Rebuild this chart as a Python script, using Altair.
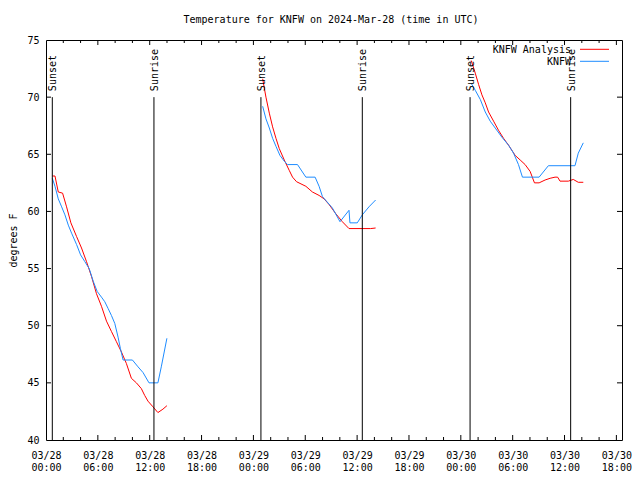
import json
import altair as alt
import pandas as pd

# ---- data (hours since 2024-03-28 00:00 UTC, temperature in F) ----
ana_h_1 = [0.73, 1.04, 1.42, 1.92, 2.38, 2.88, 3.54, 4.11, 4.69, 5.27, 5.84, 6.42, 7.0, 7.57,
           8.15, 8.73, 9.30, 9.88, 10.46, 11.03, 11.42, 11.80, 12.38, 12.95, 13.53, 13.99]
ana_t_1 = [63.1, 63.1, 61.7, 61.6, 60.4, 59.0, 57.8, 56.8, 55.6, 54.3, 52.8, 51.7, 50.4, 49.5,
           48.6, 47.7, 46.7, 45.4, 45.0, 44.5, 43.9, 43.4, 42.9, 42.4, 42.7, 43.0]
ana_h_2 = [25.07, 25.45, 25.84, 26.22, 26.61, 26.99, 27.57, 28.14, 28.53, 28.99, 30.07, 30.83,
           31.6, 32.18, 32.76, 33.53, 34.29, 35.06, 37.56, 38.14]
ana_t_2 = [71.6, 70.0, 68.6, 67.4, 66.4, 65.5, 64.5, 63.6, 63.0, 62.6, 62.2, 61.7,
           61.4, 61.1, 60.6, 59.8, 59.1, 58.5, 58.5, 58.55]
ana_h_3 = [49.21, 49.67, 50.06, 50.44, 50.83, 51.21, 51.79, 52.36, 52.94, 53.52, 54.29, 54.87,
           55.44, 56.02, 56.52, 57.06, 57.75, 58.33, 58.9, 59.2, 59.48, 60.44, 61.01, 61.59, 62.17]
ana_t_3 = [73.2, 72.1, 71.1, 70.2, 69.5, 68.7, 67.9, 67.1, 66.4, 65.8, 64.9, 64.5,
           64.1, 63.5, 62.5, 62.5, 62.75, 62.9, 63.0, 63.0, 62.65, 62.65, 62.8, 62.55, 62.55]

obs_h_1 = [0.73, 1.04, 1.42, 1.81, 2.19, 2.58, 2.96, 3.54, 4.0, 4.5, 5.0, 5.46, 5.92, 6.42,
           6.8, 7.19, 7.57, 7.96, 8.34, 8.61, 8.92, 10.0, 10.65, 11.23, 11.92, 12.95, 13.34, 13.99]
obs_t_1 = [62.9, 62.2, 61.1, 60.4, 59.7, 58.8, 58.1, 57.1, 56.2, 55.6, 55.0, 53.9, 53.0, 52.5,
           52.1, 51.5, 50.9, 50.2, 49.0, 48.0, 47.0, 47.0, 46.4, 45.9, 45.0, 45.0, 46.4, 48.9]
obs_h_2 = [25.07, 25.45, 25.84, 26.22, 26.61, 27.07, 27.57, 27.95, 29.1, 30.07, 31.14, 31.6,
           31.99, 32.45, 33.14, 34.02, 35.06, 35.17, 36.02, 36.6, 37.37, 38.14]
obs_t_2 = [69.2, 68.1, 67.3, 66.4, 65.7, 64.9, 64.4, 64.1, 64.1, 63.0, 63.0, 62.2,
           61.3, 60.9, 60.3, 59.1, 60.1, 59.0, 59.0, 59.7, 60.4, 61.0]
obs_h_3 = [49.21, 49.67, 50.25, 50.83, 51.4, 51.98, 52.75, 53.52, 54.1, 54.67, 55.13, 57.06,
           58.13, 61.21, 61.59, 62.17]
obs_t_3 = [71.2, 70.6, 69.8, 68.7, 67.9, 67.3, 66.5, 65.8, 65.1, 64.1, 63.0, 63.0,
           64.0, 64.0, 65.1, 66.0]

series_names = ["KNFW Analysis", "KNFW"]
series_colors = ["#ff0000", "#1e8cff"]

event_h = [0.73, 12.49, 24.87, 36.6, 49.07, 60.71]
event_labels = ["Sunset", "Sunrise", "Sunset", "Sunrise", "Sunset", "Sunrise"]

x_major = [0, 6, 12, 18, 24, 30, 36, 42, 48, 54, 60, 66]
x_minor = [h for h in range(0, 67, 2) if h % 6 != 0]
x_dates = ["03/28", "03/28", "03/28", "03/28", "03/29", "03/29", "03/29", "03/29",
           "03/30", "03/30", "03/30", "03/30"]
x_times = ["00:00", "06:00", "12:00", "18:00"] * 3
y_ticks = [40, 45, 50, 55, 60, 65, 70, 75]

TITLE = "Temperature for KNFW on 2024-Mar-28 (time in UTC)"
FONT = "DejaVu Sans Mono"
W, H = 576, 400

rows = []
for name, segs in [(series_names[0], [(ana_h_1, ana_t_1), (ana_h_2, ana_t_2), (ana_h_3, ana_t_3)]),
                   (series_names[1], [(obs_h_1, obs_t_1), (obs_h_2, obs_t_2), (obs_h_3, obs_t_3)])]:
    for si, (hs, ts) in enumerate(segs):
        for h, t in zip(hs, ts):
            rows.append({"h": h, "temp": t, "series": name, "seg": f"{name}-{si}"})
df = pd.DataFrame(rows)
events = pd.DataFrame({"h": event_h, "label": event_labels})
xmaj = pd.DataFrame({"h": x_major[1:]})
xmin = pd.DataFrame({"h": x_minor})
yt = pd.DataFrame({"v": y_ticks[1:-1]})

x_scale = alt.Scale(domain=[0, 66.65], nice=False, zero=False)
y_scale = alt.Scale(domain=[40, 75], nice=False, zero=False)

label_expr = (f"[{json.dumps(x_dates)}[round(datum.value / 6)], "
              f"{json.dumps(x_times)}[round(datum.value / 6)]]")

x_axis = alt.Axis(values=x_major, labelExpr=label_expr, tickSize=0, domain=False, grid=False,
                  title=None, labelFont=FONT, labelFontSize=10, labelColor="black",
                  labelPadding=10, labelLineHeight=12.5, labelBaseline="top",
                  labelOverlap=False, labelBound=False, labelFlush=False, labelAlign="center")
y_axis = alt.Axis(values=y_ticks, tickSize=0, domain=False, grid=False, title="degrees F",
                  labelFont=FONT, labelFontSize=10, labelColor="black", labelPadding=7,
                  titleFont=FONT, titleFontSize=10, titleFontWeight="normal", titleColor="black",
                  titleAngle=270, titleX=-33, titleY=200, titleAlign="center",
                  titleBaseline="middle", labelOverlap=False, labelBound=False, labelFlush=False)

lines = alt.Chart(df).mark_line(strokeWidth=1).encode(
    x=alt.X("h:Q", scale=x_scale, axis=x_axis),
    y=alt.Y("temp:Q", scale=y_scale, axis=y_axis),
    color=alt.Color("series:N", scale=alt.Scale(domain=series_names, range=series_colors), legend=None),
    detail="seg:N",
)

ev_rules = alt.Chart(events).mark_rule(color="black", strokeWidth=1).encode(
    x=alt.X("h:Q", scale=x_scale), y=alt.datum(40), y2=alt.datum(70))
ev_text = alt.Chart(events).mark_text(angle=270, align="left", baseline="middle", dx=6, dy=1,
                                      font=FONT, fontSize=10, color="black").encode(
    x=alt.X("h:Q", scale=x_scale), y=alt.datum(70), text="label:N")

tick_layers = []
for d, ln in [(xmaj, 5), (xmin, 3)]:
    tick_layers.append(alt.Chart(d).mark_rule(color="black", strokeWidth=1).encode(
        x=alt.X("h:Q", scale=x_scale), y=alt.value(H), y2=alt.value(H - ln)))
    tick_layers.append(alt.Chart(d).mark_rule(color="black", strokeWidth=1).encode(
        x=alt.X("h:Q", scale=x_scale), y=alt.value(0), y2=alt.value(ln)))
tick_layers.append(alt.Chart(yt).mark_rule(color="black", strokeWidth=1).encode(
    y=alt.Y("v:Q", scale=y_scale), x=alt.value(0), x2=alt.value(5)))
tick_layers.append(alt.Chart(yt).mark_rule(color="black", strokeWidth=1).encode(
    y=alt.Y("v:Q", scale=y_scale), x=alt.value(W), x2=alt.value(W - 5)))

legend_layers = []
for i, (name, col) in enumerate(zip(series_names, series_colors)):
    ly = 10.3 + 12 * i
    legend_layers.append(alt.Chart(pd.DataFrame({"name": [name]})).mark_text(
        align="right", baseline="middle", font=FONT, fontSize=10, color="black").encode(
        x=alt.value(525), y=alt.value(ly), text="name:N"))
    legend_layers.append(alt.Chart(pd.DataFrame({"name": [name]})).mark_rule(
        color=col, strokeWidth=1).encode(
        x=alt.value(534), x2=alt.value(563), y=alt.value(ly - 1)))

title_layer = alt.Chart(pd.DataFrame({"t": [TITLE]})).mark_text(
    align="center", baseline="alphabetic", font=FONT, fontSize=10, color="black").encode(
    x=alt.value(285), y=alt.value(-16.7), text="t:N")

chart = alt.layer(lines, ev_rules, ev_text, *tick_layers, *legend_layers, title_layer).properties(
    width=W, height=H,
    autosize=alt.AutoSizeParams(type="none"),
    padding={"left": 38, "top": 32, "right": 10, "bottom": 32},
    background="white",
).configure_view(stroke="black", strokeWidth=1)

chart.save("out.html", embed_options={"renderer": "svg", "actions": False})
